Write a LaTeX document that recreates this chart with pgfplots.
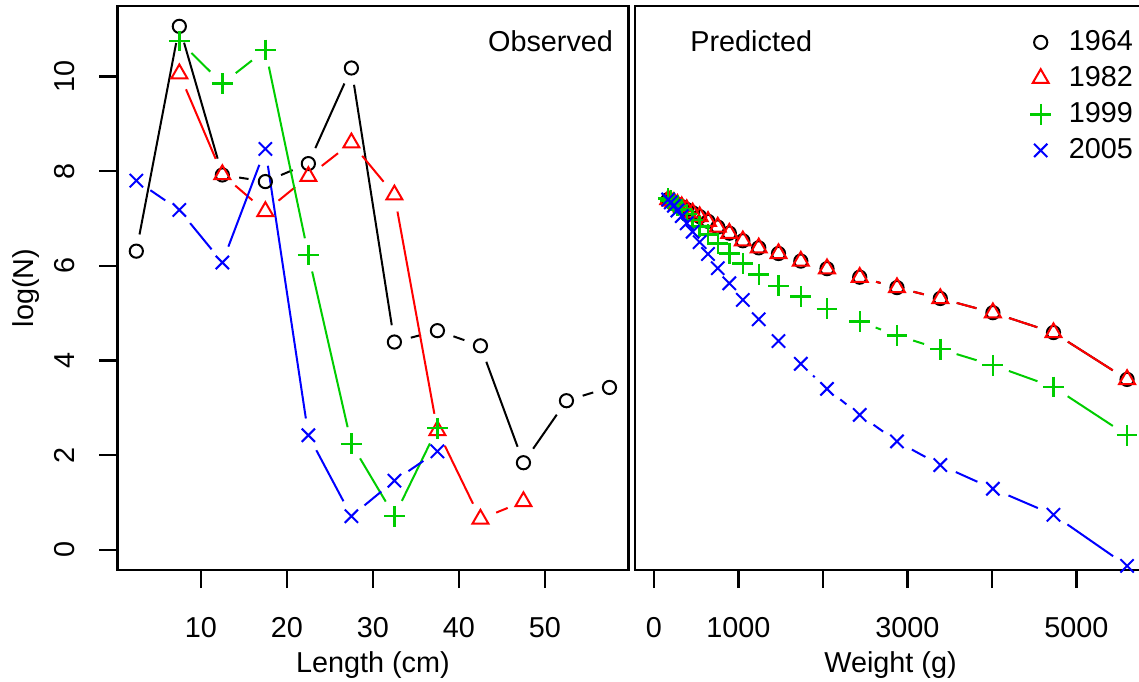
\documentclass[border=0pt]{standalone}
\usepackage{fontspec}
\setmainfont{Liberation Sans}
\usepackage{pgfplots}
\usepackage{pgfplotstable}
\pgfplotsset{compat=1.18}

\definecolor{rred}{RGB}{255,0,0}
\definecolor{rgreen}{RGB}{0,205,0}
\definecolor{rblue}{RGB}{0,0,255}

% observed log(N) per length class; nx,ny = next point of the same year
\pgfplotstableread{
x    y     nx   ny
2.5  6.31  7.5  11.06
7.5  11.06 12.5 7.92
12.5 7.92  17.5 7.78
17.5 7.78  22.5 8.16
22.5 8.16  27.5 10.18
27.5 10.18 32.5 4.39
32.5 4.39  37.5 4.63
37.5 4.63  42.5 4.31
42.5 4.31  47.5 1.84
47.5 1.84  52.5 3.15
52.5 3.15  57.5 3.43
57.5 3.43  57.5 3.43
}\obsA
\pgfplotstableread{
x    y     nx   ny
7.5  10.06 12.5 7.93
12.5 7.93  17.5 7.15
17.5 7.15  22.5 7.89
22.5 7.89  27.5 8.60
27.5 8.60  32.5 7.50
32.5 7.50  37.5 2.52
37.5 2.52  42.5 0.65
42.5 0.65  47.5 1.02
47.5 1.02  47.5 1.02
}\obsB
\pgfplotstableread{
x    y     nx   ny
7.5  10.75 12.5 9.85
12.5 9.85  17.5 10.56
17.5 10.56 22.5 6.23
22.5 6.23  27.5 2.24
27.5 2.24  32.5 0.71
32.5 0.71  37.5 2.57
37.5 2.57  37.5 2.57
}\obsC
\pgfplotstableread{
x    y     nx   ny
2.5  7.80  7.5  7.18
7.5  7.18  12.5 6.07
12.5 6.07  17.5 8.47
17.5 8.47  22.5 2.42
22.5 2.42  27.5 0.71
27.5 0.71  32.5 1.46
32.5 1.46  37.5 2.08
37.5 2.08  37.5 2.08
}\obsD

% predicted log(N) by weight (g); 1964 and 1982 coincide (column a)
\pgfplotstableread{
w    a     c     d
5599 3.60  2.42  -0.34
4728 4.59  3.44  0.74
4011 5.01  3.90  1.29
3389 5.31  4.24  1.79
2876 5.54  4.53  2.29
2435 5.76  4.82  2.85
2048 5.94  5.09  3.40
1738 6.10  5.35  3.93
1474 6.26  5.58  4.41
1240 6.38  5.82  4.87
1052 6.53  6.05  5.28
892  6.69  6.26  5.63
755  6.82  6.47  5.95
640  6.94  6.66  6.25
541  7.04  6.83  6.50
458  7.12  6.97  6.72
388  7.19  7.09  6.90
329  7.25  7.19  7.05
278  7.30  7.27  7.17
236  7.34  7.33  7.27
200  7.37  7.38  7.34
169  7.40  7.42  7.40
}\pred
% only the joins long enough to show outside the symbols
\pgfplotstableread{
x    y     nx   ny
5599 3.60  4728 4.59
4728 4.59  4011 5.01
4011 5.01  3389 5.31
3389 5.31  2876 5.54
2876 5.54  2435 5.76
}\segA
\pgfplotstableread{
x    y     nx   ny
5599 2.42  4728 3.44
4728 3.44  4011 3.90
4011 3.90  3389 4.24
3389 4.24  2876 4.53
2876 4.53  2435 4.82
}\segC
\pgfplotstableread{
x    y     nx   ny
5599 -0.34 4728 0.74
4728 0.74  4011 1.29
4011 1.29  3389 1.79
3389 1.79  2876 2.29
2876 2.29  2435 2.85
2435 2.85  2048 3.40
2048 3.40  1738 3.93
}\segD

\pgfplotsset{
  panel/.style={
    scale only axis, width=255.5pt, height=282pt, anchor=south west,
    ymin=-0.427, ymax=11.49,
    axis line style={line width=1.2pt},
    tick style={line width=1.2pt, black},
    tick align=outside, major tick length=9pt, tick pos=left,
    tick label style={inner sep=0pt},
    xticklabel style={yshift=-14.5pt},
    /pgf/number format/assume math mode=true,
    xlabel style={at={(axis description cs:0.5,-0.181)}, anchor=base},
  },
  seg/.style={no markers, line width=1pt, forget plot,
    shorten >=8.5pt, shorten <=8.5pt,
    quiver={u=\thisrow{nx}-\thisrow{x}, v=\thisrow{ny}-\thisrow{y}}},
  mkA/.style={only marks, black, mark=o, mark size=3.3pt, mark options={line width=1pt}},
  mkB/.style={only marks, rred, mark=triangle, mark size=4.6pt, mark options={line width=1pt}},
  mkC/.style={only marks, rgreen, mark=+, mark size=5.2pt, mark options={line width=1.2pt}},
  mkD/.style={only marks, rblue, mark=x, mark size=4.7pt, mark options={line width=1pt}},
}

\begin{document}
\begin{tikzpicture}[font=\fontsize{14.4}{17}\selectfont]
\begin{axis}[panel, at={(58.7pt,55.5pt)},
  xmin=0.3, xmax=59.7, xtick={10,20,30,40,50},
  ytick={0,2,4,6,8,10},
  yticklabel style={xshift=-12.25pt, rotate=90, anchor=south},
  xlabel={Length (cm)}, ylabel={log(N)},
  ylabel style={at={(axis description cs:-0.1644,0.5)}, anchor=base, rotate=0},
]
\addplot[seg, black] table[skip coords between index={11}{12}] \obsA;
\addplot[mkA] table[x=x, y=y] \obsA;
\addplot[seg, rred] table[skip coords between index={8}{9}] \obsB;
\addplot[mkB] table[x=x, y=y] \obsB;
\addplot[seg, rgreen] table[skip coords between index={6}{7}] \obsC;
\addplot[mkC] table[x=x, y=y] \obsC;
\addplot[seg, rblue] table[skip coords between index={7}{8}] \obsD;
\addplot[mkD] table[x=x, y=y] \obsD;
\node[anchor=east, inner sep=0pt] at (rel axis cs:1,1) [xshift=-7.5pt, yshift=-17.85pt] {Observed};
\end{axis}

\begin{axis}[panel, at={(317.5pt,55.5pt)},
  xmin=-224, xmax=5823, xtick={0,1000,2000,3000,4000,5000},
  xticklabels={0,1000,,3000,,5000}, ytick=\empty,
  xlabel={Weight (g)},
  legend style={at={(rel axis cs:0.7728,0.9567)}, anchor=north west,
    draw=none, fill=none, inner sep=0pt, row sep=6.45pt,
    cells={anchor=west}, nodes={inner sep=0pt},
    /tikz/every odd column/.append style={column sep=8.9pt}},
]
\addplot[seg, black] table \segA;
\addplot[mkA] table[x=w, y=a] \pred;
\addlegendentry{1964}
\addplot[seg, rred] table \segA;
\addplot[mkB] table[x=w, y=a] \pred;
\addlegendentry{1982}
\addplot[seg, rgreen] table \segC;
\addplot[mkC] table[x=w, y=c] \pred;
\addlegendentry{1999}
\addplot[seg, rblue] table \segD;
\addplot[mkD] table[x=w, y=d] \pred;
\addlegendentry{2005}
\node[anchor=west, inner sep=0pt] at (rel axis cs:0,1) [xshift=27.5pt, yshift=-17.85pt] {Predicted};
\end{axis}
\pgfresetboundingbox
\useasboundingbox (0,0) rectangle (569.5pt,340.5pt);
\end{tikzpicture}
\end{document}
